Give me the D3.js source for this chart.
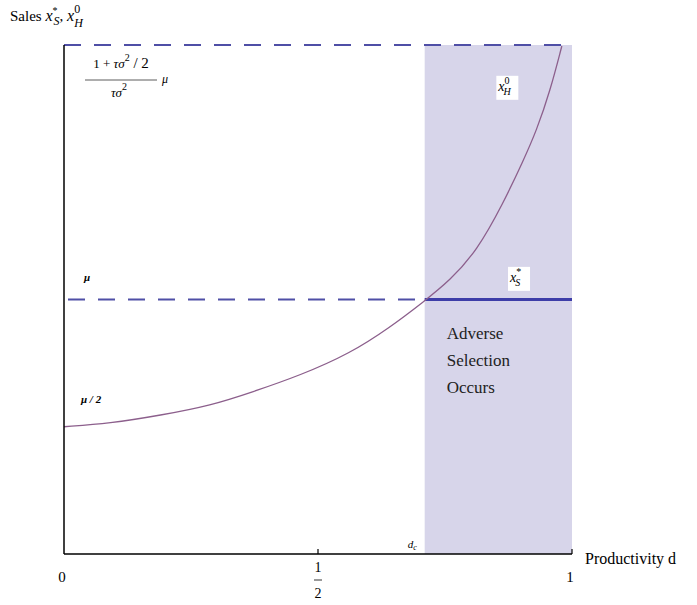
<!DOCTYPE html>
<html>
<head>
<meta charset="utf-8">
<script src="https://cdn.jsdelivr.net/npm/d3@7"></script>
<style>
  body { margin: 0; background: #fff; }
  svg { display: block; font-family: "Liberation Serif", "Times New Roman", serif; }
</style>
</head>
<body>
<script>
// data: productivity d and high-type sales x_H^0 (in units of mu)
var dValues = [0, 0.09, 0.19, 0.29, 0.37, 0.465, 0.563, 0.642, 0.707, 0.76, 0.813, 0.864, 0.904, 0.93, 0.957, 0.98];
var xHValues = [0.5, 0.513, 0.545, 0.584, 0.636, 0.702, 0.788, 0.891, 0.99, 1.075, 1.192, 1.376, 1.545, 1.663, 1.82, 1.996];
var levels = [0.5, 1, 2];          // mu/2, mu, (1+ts^2/2)/(ts^2) mu
var dCritical = 0.71;              // d_c
var xSValue = 1;                   // x_S^* = mu for d > d_c
var xTicks = [0, 0.5, 1];

var svgWidth = 697;
var svgHeight = 605;
var margin = { top: 45, right: 125, bottom: 51, left: 64 };
var chartWidth = svgWidth - margin.left - margin.right;
var chartHeight = svgHeight - margin.top - margin.bottom;

var svg = d3.select("body").append("svg")
  .attr("width", svgWidth)
  .attr("height", svgHeight);

var chartGroup = svg.append("g")
  .attr("transform", `translate(${margin.left}, ${margin.top})`);

var xScale = d3.scaleLinear().domain([0, 1]).range([0, chartWidth]);
var yScale = d3.scaleLinear().domain([0, 2]).range([chartHeight, 0]);

var dashColor = "#4f4fa6";

// shaded region d > d_c
chartGroup.append("rect")
  .attr("x", xScale(dCritical))
  .attr("y", yScale(levels[2]))
  .attr("width", xScale(1) - xScale(dCritical))
  .attr("height", yScale(0) - yScale(levels[2]))
  .attr("fill", "#d7d5ea");

// dashed top level and mu level
chartGroup.append("line")
  .attr("x1", xScale(0)).attr("x2", xScale(1))
  .attr("y1", yScale(levels[2])).attr("y2", yScale(levels[2]))
  .attr("stroke", dashColor).attr("stroke-width", 2)
  .attr("stroke-dasharray", "17,13");

chartGroup.append("line")
  .attr("x1", xScale(0) + 4).attr("x2", xScale(dCritical))
  .attr("y1", yScale(levels[1])).attr("y2", yScale(levels[1]))
  .attr("stroke", dashColor).attr("stroke-width", 2)
  .attr("stroke-dasharray", "17,13");

// x_S^* solid
chartGroup.append("line")
  .attr("x1", xScale(dCritical)).attr("x2", xScale(1))
  .attr("y1", yScale(xSValue)).attr("y2", yScale(xSValue))
  .attr("stroke", "#3d3da8").attr("stroke-width", 3);

// x_H^0 curve
svg.append("clipPath").attr("id", "plotClip")
  .append("rect").attr("x", 0).attr("y", 0).attr("width", chartWidth).attr("height", chartHeight);

var curveLine = d3.line()
  .x((d, i) => xScale(d))
  .y((d, i) => yScale(xHValues[i]))
  .curve(d3.curveBasis);

chartGroup.append("path")
  .attr("d", curveLine(dValues))
  .attr("fill", "none")
  .attr("stroke", "#8c5f8c")
  .attr("stroke-width", 1.3)
  .attr("clip-path", "url(#plotClip)");

// axes
chartGroup.append("line")
  .attr("x1", 0).attr("x2", 0)
  .attr("y1", 0).attr("y2", chartHeight)
  .attr("stroke", "#000").attr("stroke-width", 1.5);

chartGroup.append("line")
  .attr("x1", 0).attr("x2", chartWidth)
  .attr("y1", chartHeight).attr("y2", chartHeight)
  .attr("stroke", "#000").attr("stroke-width", 1.5);

chartGroup.selectAll(".tick")
  .data(xTicks.slice(1))
  .enter().append("line")
  .attr("x1", d => xScale(d)).attr("x2", d => xScale(d))
  .attr("y1", chartHeight).attr("y2", chartHeight - 5)
  .attr("stroke", "#000").attr("stroke-width", 1.2);

// tick labels
xTicks.forEach(function(t) {
  var x = xScale(t);
  if (t === 0.5) {
    chartGroup.append("text").attr("x", x).attr("y", chartHeight + 18)
      .attr("text-anchor", "middle").attr("font-size", 14).text("1");
    chartGroup.append("line")
      .attr("x1", x - 4).attr("x2", x + 4)
      .attr("y1", chartHeight + 26).attr("y2", chartHeight + 26)
      .attr("stroke", "#000").attr("stroke-width", 0.8);
    chartGroup.append("text").attr("x", x).attr("y", chartHeight + 44)
      .attr("text-anchor", "middle").attr("font-size", 14).text("2");
  } else {
    chartGroup.append("text").attr("x", x - 2).attr("y", chartHeight + 28)
      .attr("text-anchor", "middle").attr("font-size", 15).text(d3.format("d")(t));
  }
});

// axis titles
svg.append("text")
  .attr("x", margin.left + chartWidth + 13).attr("y", margin.top + chartHeight + 10)
  .attr("font-size", 16).text("Productivity d");

var yTitle = svg.append("text").attr("x", 10).attr("y", 21).attr("font-size", 15);
yTitle.append("tspan").text("Sales ");
yTitle.append("tspan").attr("font-style", "italic").attr("font-size", 16).text("x");
yTitle.append("tspan").attr("font-size", 10).attr("dy", -7).text("*");
yTitle.append("tspan").attr("font-size", 12).attr("font-style", "italic").attr("dx", -4).attr("dy", 11).text("S");
yTitle.append("tspan").attr("dy", -4).text(", ");
yTitle.append("tspan").attr("font-style", "italic").attr("font-size", 16).text("x");
yTitle.append("tspan").attr("font-size", 12).attr("dy", -8).text("0");
yTitle.append("tspan").attr("font-size", 12).attr("font-style", "italic").attr("dx", -6).attr("dy", 14).text("H");

// level labels
var fracX = 21, fracY = yScale(levels[2]);
var num = chartGroup.append("text").attr("x", fracX + 36).attr("y", fracY + 23)
  .attr("text-anchor", "middle").attr("font-size", 13);
num.append("tspan").text("1 + ");
num.append("tspan").attr("font-style", "italic").text("τσ");
num.append("tspan").attr("font-size", 10).attr("dy", -7).text("2");
num.append("tspan").attr("dy", 7).attr("font-size", 15).text(" / 2");
chartGroup.append("line")
  .attr("x1", fracX).attr("x2", fracX + 72)
  .attr("y1", fracY + 35).attr("y2", fracY + 35)
  .attr("stroke", "#333").attr("stroke-width", 0.8);
var den = chartGroup.append("text").attr("x", fracX + 34).attr("y", fracY + 52)
  .attr("text-anchor", "middle").attr("font-size", 13);
den.append("tspan").attr("font-style", "italic").text("τσ");
den.append("tspan").attr("font-size", 10).attr("dy", -7).text("2");
chartGroup.append("text").attr("x", fracX + 77).attr("y", fracY + 38)
  .attr("font-size", 12).attr("font-style", "italic").text("μ");

chartGroup.append("text").attr("x", 20).attr("y", yScale(levels[1]) - 19)
  .attr("font-size", 11).attr("font-style", "italic").attr("font-weight", "bold").text("μ");
chartGroup.append("text").attr("x", 17).attr("y", yScale(levels[0]) - 24)
  .attr("font-size", 11).attr("font-style", "italic").attr("font-weight", "bold").text("μ / 2");

// curve labels with white boxes
function boxedLabel(x, y, sup, sub) {
  chartGroup.append("rect").attr("x", x - 2).attr("y", y - 15).attr("width", 22).attr("height", 24).attr("fill", "#fff");
  var t = chartGroup.append("text").attr("x", x).attr("y", y).attr("font-size", 14).attr("font-style", "italic");
  t.append("tspan").text("x");
  t.append("tspan").attr("font-size", 10).attr("font-style", "normal").attr("dy", -7).text(sup);
  t.append("tspan").attr("font-size", 10).attr("dx", -6).attr("dy", 11).text(sub);
}
boxedLabel(xScale(0.855), yScale(1.82), "0", "H");
boxedLabel(xScale(0.878), yScale(1.085) + 4, "*", "S");

// adverse selection text
["Adverse", "Selection", "Occurs"].forEach(function(s, i) {
  chartGroup.append("text")
    .attr("x", xScale(dCritical) + 22).attr("y", yScale(levels[1]) + 39 + i * 27)
    .attr("font-size", 17).attr("fill", "#222").text(s);
});

// d_c label
var dc = chartGroup.append("text").attr("x", xScale(dCritical) - 17).attr("y", chartHeight - 6)
  .attr("font-size", 11).attr("font-style", "italic");
dc.append("tspan").text("d");
dc.append("tspan").attr("font-size", 8).attr("dy", 2).text("c");
</script>
</body>
</html>
